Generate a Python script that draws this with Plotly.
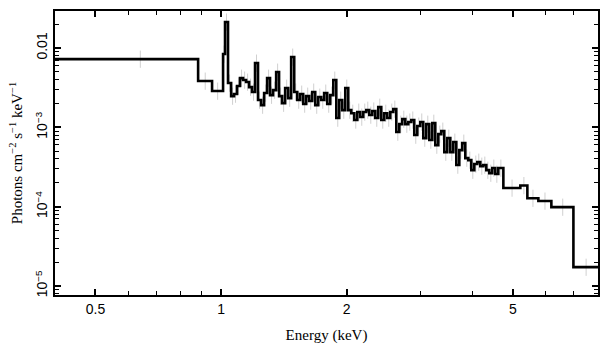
import plotly.graph_objects as go

# Bin edges (keV) of the unfolded spectrum
energy_edges = [
    0.4, 0.881, 0.9515, 1.011, 1.022,
    1.039, 1.057, 1.074, 1.092, 1.110, 1.129, 1.148, 1.167, 1.186, 1.206,
    1.226, 1.247, 1.268, 1.289, 1.310, 1.332, 1.355, 1.377, 1.400, 1.424,
    1.448, 1.472, 1.497, 1.522, 1.547, 1.573, 1.599, 1.626, 1.653, 1.681,
    1.709, 1.738, 1.767, 1.796, 1.826, 1.857, 1.888, 1.919, 1.951, 1.984,
    2.017, 2.051, 2.085, 2.120, 2.155, 2.191, 2.228, 2.265, 2.303, 2.341,
    2.380, 2.420, 2.460, 2.501, 2.543, 2.586, 2.629, 2.673, 2.717, 2.763,
    2.809, 2.856, 2.903, 2.952, 3.001, 3.051, 3.102, 3.154, 3.207, 3.260,
    3.315, 3.370, 3.426, 3.483, 3.542, 3.601, 3.661, 3.722, 3.784, 3.847,
    3.911, 3.977, 4.043, 4.110, 4.179, 4.249, 4.320, 4.392, 4.465, 4.540,
    4.616,
    4.746, 5.212, 5.418, 5.757, 6.185, 6.985, 8.0,
]

# Flux per bin (photons cm^-2 s^-1 keV^-1)
flux = [
    0.00726, 0.00384, 0.00287, 0.0084, 0.0213,
    0.00362, 0.00248, 0.00263, 0.00332, 0.00418, 0.00395, 0.00373, 0.00322, 0.00279, 0.00647,
    0.00221, 0.00191, 0.00271, 0.00418, 0.00255, 0.00295, 0.00498, 0.00248, 0.00202, 0.00313,
    0.00234, 0.00770, 0.00279, 0.00221, 0.00263, 0.00197, 0.00248, 0.00215, 0.00279, 0.00191,
    0.00241, 0.00221, 0.00271, 0.00197, 0.00255, 0.00395, 0.00131, 0.00221, 0.00165, 0.00313,
    0.00165, 0.00151, 0.00124, 0.00156, 0.00135, 0.00156, 0.00165, 0.00143, 0.00161, 0.00131,
    0.00180, 0.00124, 0.00151, 0.00131, 0.00156, 0.00170, 0.000873, 0.00110, 0.00127, 0.00110,
    0.00117, 0.00124, 0.000800, 0.00104, 0.00117, 0.000733, 0.00110, 0.000692, 0.00113, 0.000598,
    0.000823, 0.000898, 0.000488, 0.000733, 0.000488, 0.000653, 0.000335, 0.000517, 0.000634, 0.000410,
    0.000387, 0.000289, 0.000345, 0.000365, 0.000325, 0.000335, 0.000289, 0.000265, 0.000307, 0.000258,
    0.000307,
    0.000172, 0.000185, 0.000128, 0.000118, 0.0000989, 0.0000173,
]

REL_ERR = 0.28  # approximate relative size of the faint error bars

x_tickvals = [0.5, 1, 2, 5]
x_ticktext = ["0.5", "1", "2", "5"]
y_tickvals = [0.01, 1e-3, 1e-4, 1e-5]
y_ticktext = ["0.01", "10<sup>\u22123</sup>", "10<sup>\u22124</sup>", "10<sup>\u22125</sup>"]

assert len(energy_edges) == len(flux) + 1

centers = [(a + b) / 2 for a, b in zip(energy_edges[:-1], energy_edges[1:])]
err_up = [v * REL_ERR for v in flux]
err_dn = [v * REL_ERR * 0.8 for v in flux]

fig = go.Figure()
fig.add_trace(go.Scatter(
    x=centers, y=flux, mode="markers",
    marker=dict(size=0.1, color="rgba(0,0,0,0)"),
    error_y=dict(type="data", array=err_up, arrayminus=err_dn, symmetric=False,
                 color="#d0d0d0", thickness=1, width=0),
    hoverinfo="skip", showlegend=False,
))
fig.add_trace(go.Scatter(
    x=energy_edges, y=flux + [flux[-1]], mode="lines",
    line=dict(shape="hv", color="black", width=2.6),
    showlegend=False,
))

sans = "Liberation Sans, Arial, sans-serif"
serif = "Liberation Serif, Times New Roman, serif"

fig.update_layout(
    width=609, height=357,
    margin=dict(l=55, r=11, t=11, b=62, autoexpand=False),
    paper_bgcolor="white", plot_bgcolor="white",
    xaxis=dict(
        type="log", range=[-0.39794, 0.90309],
        tickvals=x_tickvals, ticktext=x_ticktext,
        ticks="inside", ticklen=6, tickwidth=1.5, tickcolor="black",
        minor=dict(dtick="D1", ticks="inside", ticklen=4, tickwidth=1.2, tickcolor="black", showgrid=False),
        showline=True, linecolor="black", linewidth=2, mirror="ticks",
        showgrid=False, zeroline=False,
        tickfont=dict(family=sans, size=14, color="black"),
        title=dict(text="Energy (keV)", font=dict(family=serif, size=15, color="black"), standoff=14),
    ),
    yaxis=dict(
        type="log", range=[-5.113, -1.533],
        tickvals=y_tickvals, ticktext=y_ticktext, tickangle=-90,
        ticks="inside", ticklen=6, tickwidth=1.5, tickcolor="black",
        minor=dict(dtick="D1", ticks="inside", ticklen=4, tickwidth=1.2, tickcolor="black", showgrid=False),
        showline=True, linecolor="black", linewidth=2, mirror="ticks",
        showgrid=False, zeroline=False,
        tickfont=dict(family=sans, size=14, color="black"),
        title=dict(text="Photons cm<sup>\u22122</sup> s<sup>\u22121</sup> keV<sup>\u22121</sup>",
                   font=dict(family=serif, size=15, color="black"), standoff=6),
    ),
)

fig.write_html("out.html", config={"displayModeBar": False},
               post_script="document.body.style.margin='0px';")
